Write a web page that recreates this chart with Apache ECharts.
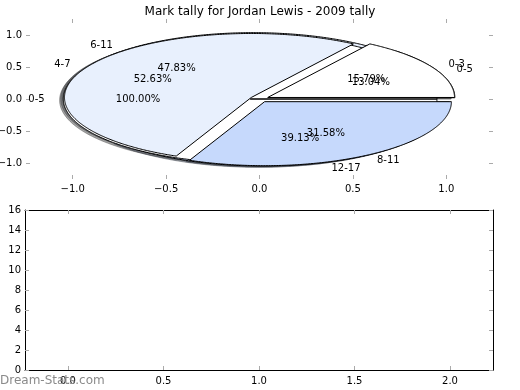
<!DOCTYPE html>
<html><head><meta charset="utf-8">
<script src="https://cdn.jsdelivr.net/npm/echarts@6/dist/echarts.min.js"></script>
<style>html,body{margin:0;padding:0;background:#fff}#c{width:520px;height:390px}</style>
</head><body><div id="c"></div>
<script>
const titleText = 'Mark tally for Jordan Lewis - 2009 tally';
const pie1Labels = ['0-5'];
const pie1Values = [100.00];
const pie2Labels = ['0-3', '4-7', '8-11'];
const pie2Values = [15.79, 52.63, 31.58];
const pie3Labels = ['0-5', '6-11', '12-17'];
const pie3Values = [13.04, 47.83, 39.13];
const pieTicks = [-1.0, -0.5, 0.0, 0.5, 1.0];
const barXTicks = [0.0, 0.5, 1.0, 1.5, 2.0];
const barYTicks = [0, 2, 4, 6, 8, 10, 12, 14, 16];
const watermarkText = 'Dream-Stats.com';

const FONT = '"DejaVu Sans", Verdana, sans-serif';
const EXPLODE = 0.05;
const SHADOW = 0.02;
const palette = ['#ffffff', '#e8f0fd', '#c6d9fc'];

function buildWedges(labels, values, colors) {
  const total = values.reduce((a, b) => a + b, 0);
  let acc = 0;
  return values.map((v, i) => {
    const a1 = acc / total * 360; acc += v; const a2 = acc / total * 360;
    return { label: labels[i], value: v, pct: v / total * 100, a1, a2, color: colors[i % colors.length] };
  });
}
const pie1 = buildWedges(pie1Labels, pie1Values, ['#ffffff']);
const pie2 = buildWedges(pie2Labels, pie2Values, palette);
const pie3 = buildWedges(pie3Labels, pie3Values, palette);
const drawOrder = [pie3, pie1, pie2];
const allWedges = [].concat(pie1, pie2, pie3);

function centerOf(w) {
  const mid = (w.a1 + w.a2) / 2 * Math.PI / 180;
  return [EXPLODE * Math.cos(mid), EXPLODE * Math.sin(mid), mid];
}
function wedgePoints(api, w, dx, dy) {
  const c = centerOf(w);
  const cx = c[0] + dx, cy = c[1] + dy;
  const pts = [api.coord([cx, cy])];
  const n = Math.max(4, Math.ceil((w.a2 - w.a1) * 2));
  for (let k = 0; k <= n; k++) {
    const t = (w.a1 + (w.a2 - w.a1) * k / n) * Math.PI / 180;
    pts.push(api.coord([cx + Math.cos(t), cy + Math.sin(t)]));
  }
  return pts;
}
function darker(hex) {
  const r = parseInt(hex.slice(1, 3), 16), g = parseInt(hex.slice(3, 5), 16), b = parseInt(hex.slice(5, 7), 16);
  return 'rgb(' + Math.round(r * 0.3) + ',' + Math.round(g * 0.3) + ',' + Math.round(b * 0.3) + ')';
}

const series = [];
series.push({
  type: 'custom', xAxisIndex: 0, yAxisIndex: 0, z: 1, silent: true,
  data: allWedges.map(w => [w.a1, w.a2]),
  renderItem: function (params, api) {
    const w = allWedges[params.dataIndex];
    const col = darker(w.color);
    return { type: 'polygon', shape: { points: wedgePoints(api, w, -SHADOW, -SHADOW) },
      style: { fill: col, stroke: col, lineWidth: 1, opacity: 0.5 } };
  }
});
drawOrder.forEach((pie, pi) => {
  series.push({
    type: 'custom', xAxisIndex: 0, yAxisIndex: 0, z: 2 + pi, silent: true,
    data: pie.map(w => [w.a1, w.a2]),
    renderItem: function (params, api) {
      const w = pie[params.dataIndex];
      return { type: 'polygon', shape: { points: wedgePoints(api, w, 0, 0) },
        style: { fill: w.color, stroke: '#000', lineWidth: 1 } };
    }
  });
});
series.push({
  type: 'custom', xAxisIndex: 0, yAxisIndex: 0, z: 10, silent: true,
  data: allWedges.map(w => [w.a1, w.a2]),
  renderItem: function (params, api) {
    const w = allWedges[params.dataIndex];
    const c = centerOf(w);
    const lx = c[0] + 1.1 * Math.cos(c[2]), ly = c[1] + 1.1 * Math.sin(c[2]);
    const px = c[0] + 0.6 * Math.cos(c[2]), py = c[1] + 0.6 * Math.sin(c[2]);
    const lp = api.coord([lx, ly]), pp = api.coord([px, py]);
    return { type: 'group', children: [
      { type: 'text', x: lp[0], y: lp[1], style: { text: w.label, fill: '#000', fontSize: 10, fontFamily: FONT,
        align: lx > 0 ? 'left' : 'right', verticalAlign: 'middle' } },
      { type: 'text', x: pp[0], y: pp[1], style: { text: w.pct.toFixed(2) + '%', fill: '#000', fontSize: 10, fontFamily: FONT,
        align: 'center', verticalAlign: 'middle' } }
    ] };
  }
});
series.push({ type: 'bar', xAxisIndex: 2, yAxisIndex: 2, data: [] });

const tickStyle = { show: true, inside: true, length: 4, lineStyle: { color: '#aaaaaa', width: 1 } };
const minus = v => String(v).replace('-', '\u2212');
function axis(base) { return Object.assign({ type: 'value', splitLine: { show: false } }, base); }

const option = {
  animation: false,
  backgroundColor: '#ffffff',
  title: { text: titleText, left: 'center', top: 1,
    textStyle: { fontSize: 12, fontWeight: 'normal', color: '#000', fontFamily: FONT } },
  grid: [
    { left: 26, right: 27, top: 19, height: 160, containLabel: false, outerBoundsMode: 'none' },
    { left: 25, right: 27, top: 210, height: 160, containLabel: false, outerBoundsMode: 'none' }
  ],
  xAxis: [
    axis({ gridIndex: 0, position: 'bottom', min: -1.25, max: 1.25,
      axisLine: { show: false, onZero: false },
      axisTick: Object.assign({ customValues: pieTicks }, tickStyle),
      axisLabel: { customValues: pieTicks, formatter: v => minus(v.toFixed(1)), color: '#000', fontSize: 10, fontFamily: FONT, margin: 5 } }),
    axis({ gridIndex: 0, position: 'top', min: -1.25, max: 1.25,
      axisLine: { show: false, onZero: false },
      axisTick: Object.assign({ customValues: pieTicks }, tickStyle),
      axisLabel: { show: false } }),
    axis({ gridIndex: 1, position: 'bottom', min: -0.225, max: 2.225,
      axisLine: { show: true, onZero: false, lineStyle: { color: '#000', width: 1 } },
      axisTick: Object.assign({ customValues: barXTicks }, tickStyle),
      axisLabel: { customValues: barXTicks, formatter: v => v.toFixed(1), color: '#000', fontSize: 10, fontFamily: FONT, margin: 6 } }),
    axis({ gridIndex: 1, position: 'top', min: -0.225, max: 2.225,
      axisLine: { show: true, onZero: false, lineStyle: { color: '#000', width: 1 } },
      axisTick: Object.assign({ customValues: barXTicks }, tickStyle),
      axisLabel: { show: false } })
  ],
  yAxis: [
    axis({ gridIndex: 0, position: 'left', min: -1.25, max: 1.25,
      axisLine: { show: false, onZero: false },
      axisTick: Object.assign({ customValues: pieTicks }, tickStyle),
      axisLabel: { customValues: pieTicks, formatter: v => minus(v.toFixed(1)), color: '#000', fontSize: 10, fontFamily: FONT, margin: 4 } }),
    axis({ gridIndex: 0, position: 'right', min: -1.25, max: 1.25,
      axisLine: { show: false, onZero: false },
      axisTick: Object.assign({ customValues: pieTicks }, tickStyle),
      axisLabel: { show: false } }),
    axis({ gridIndex: 1, position: 'left', min: 0, max: 16, interval: 2,
      axisLine: { show: true, onZero: false, lineStyle: { color: '#000', width: 1 } },
      axisTick: Object.assign({ customValues: barYTicks }, tickStyle),
      axisLabel: { customValues: barYTicks, color: '#000', fontSize: 10, fontFamily: FONT, margin: 4 } }),
    axis({ gridIndex: 1, position: 'right', min: 0, max: 16, interval: 2,
      axisLine: { show: true, onZero: false, lineStyle: { color: '#000', width: 1 } },
      axisTick: Object.assign({ customValues: barYTicks }, tickStyle),
      axisLabel: { show: false } })
  ],
  graphic: [{ type: 'text', left: 0, top: 375, z: 100, silent: true,
    style: { text: watermarkText, fill: '#8a8a8a', fontSize: 12, fontFamily: FONT } }],
  series: series
};
const chart = echarts.init(document.getElementById('c'), null, { renderer: 'canvas' });
chart.setOption(option);
</script></body></html>
